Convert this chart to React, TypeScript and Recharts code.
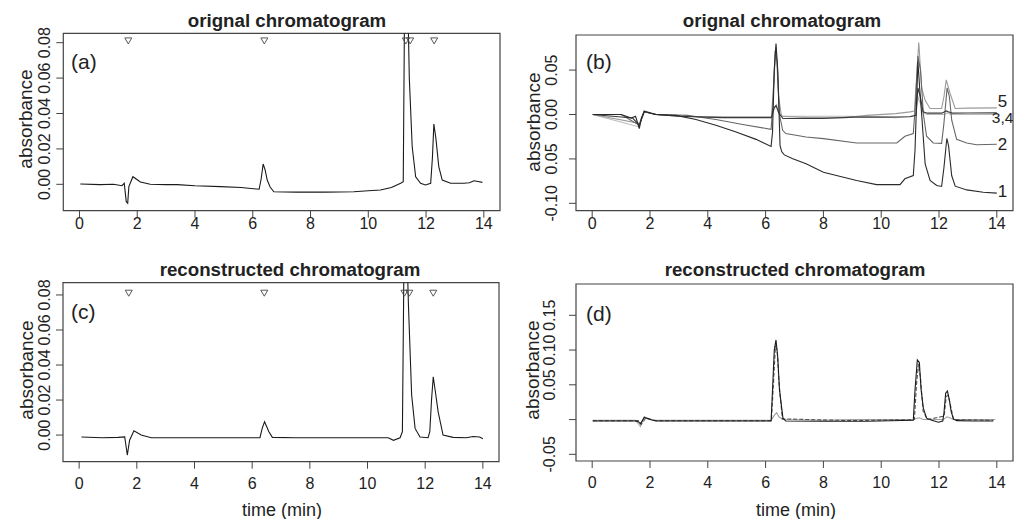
import { ComposedChart, Line, ReferenceArea, Scatter, XAxis, YAxis } from 'recharts';

const W = 1019;
const H = 519;
const FONT = '"Liberation Sans", Arial, sans-serif';
const INK = '#222';

const X_DOMAIN: [number, number] = [-0.56, 14.56];
const X_TICKS = [0, 2, 4, 6, 8, 10, 12, 14];

// (a) original chromatogram
const timeA = [0.03, 0.72, 1.18, 1.47, 1.55, 1.62, 1.67, 1.71, 1.85, 2.11, 2.45, 3.0, 3.38, 4.0, 4.88, 5.6, 6.22, 6.29, 6.36, 6.43, 6.5, 6.6, 6.73, 7.5, 8.5, 9.5, 10.0, 10.42, 10.8, 11.12, 11.21, 11.26, 11.36, 11.42, 11.52, 11.64, 11.81, 11.98, 12.16, 12.22, 12.27, 12.34, 12.44, 12.56, 12.85, 13.31, 13.5, 13.66, 13.8, 13.95];
const absA = [0.0002, -0.0002, 0, -0.0008, 0.0006, -0.0098, -0.0107, -0.0013, 0.0043, 0.0013, 0, -0.0002, -0.0002, -0.0008, -0.0013, -0.0018, -0.0028, 0.003, 0.0115, 0.008, 0.0024, -0.0015, -0.0042, -0.0044, -0.0044, -0.0042, -0.0036, -0.0032, -0.0018, 0.0006, 0.0015, 0.11, 0.11, 0.06, 0.0212, 0.0043, 0.0006, -0.0004, 0.0006, 0.015, 0.034, 0.026, 0.01, 0.0024, 0.0006, 0.0006, 0.0009, 0.002, 0.0016, 0.0011];

// (c) reconstructed chromatogram
const timeC = [0.08, 0.8, 1.35, 1.58, 1.67, 1.75, 1.9, 2.15, 2.5, 3.5, 4.5, 5.5, 6.27, 6.35, 6.43, 6.58, 6.7, 7.5, 8.5, 9.5, 10.72, 10.9, 11.13, 11.21, 11.27, 11.36, 11.42, 11.53, 11.65, 11.82, 12.1, 12.16, 12.22, 12.28, 12.36, 12.45, 12.62, 12.97, 13.43, 13.66, 13.89, 14.0];
const absC = [-0.0011, -0.0015, -0.0013, -0.001, -0.0114, -0.0029, 0.0025, 0, -0.0015, -0.0015, -0.0015, -0.0015, -0.0015, 0.004, 0.0076, 0.0019, -0.0013, -0.0015, -0.0015, -0.0015, -0.0015, -0.003, -0.0015, 0.0019, 0.11, 0.11, 0.074, 0.023, 0.0038, -0.0011, -0.0015, 0.0019, 0.02, 0.0333, 0.024, 0.0133, 0, -0.0013, -0.0015, -0.0008, -0.0011, -0.0021];

// peak markers on (a) and (c)
const peakTimesA = [1.69, 6.4, 11.3, 11.45, 12.28];
const peakTimesC = [1.72, 6.42, 11.28, 11.45, 12.28];
const MARK_LEVEL = 0.081;

// (b) original channels 1..5
const timeB1 = [0.02, 1.0, 1.35, 1.5, 1.63, 1.7, 1.8, 2.21, 2.9, 3.59, 4.28, 4.98, 5.67, 6.19, 6.24, 6.3, 6.36, 6.42, 6.5, 6.56, 6.65, 6.94, 7.4, 8.0, 9.15, 9.84, 10.65, 10.82, 11.11, 11.17, 11.27, 11.33, 11.4, 11.52, 11.69, 11.92, 12.09, 12.17, 12.27, 12.33, 12.44, 12.56, 12.96, 13.53, 14.0];
const absB1 = [0, 0, -0.004, -0.002, -0.0158, -0.004, 0.0037, 0, -0.001, -0.0057, -0.0121, -0.0197, -0.028, -0.0359, -0.02, 0.05, 0.08, 0.05, -0.035, -0.042, -0.0455, -0.0498, -0.0555, -0.065, -0.0743, -0.0789, -0.0789, -0.0724, -0.0687, -0.04, 0.06, 0.03, 0, -0.0555, -0.0743, -0.08, -0.081, -0.06, -0.027, -0.035, -0.069, -0.0807, -0.0849, -0.0875, -0.0885];
const timeB2 = [0.02, 1.0, 1.63, 1.8, 2.21, 3.3, 4.28, 5.21, 6.19, 6.25, 6.33, 6.4, 6.48, 6.59, 6.7, 7.4, 8.0, 9.15, 10.54, 10.82, 11.11, 11.18, 11.27, 11.36, 11.46, 11.57, 11.8, 12.09, 12.17, 12.28, 12.36, 12.44, 12.61, 12.96, 13.3, 14.0];
const absB2 = [0, 0, -0.012, 0.003, 0, -0.001, -0.0057, -0.0113, -0.0166, 0.01, 0.072, 0.06, 0, -0.0178, -0.0215, -0.0253, -0.0272, -0.032, -0.032, -0.0245, -0.0215, 0.01, 0.066, 0.05, 0, -0.0245, -0.032, -0.0325, -0.01, 0.03, 0.02, -0.0064, -0.028, -0.032, -0.034, -0.0335];
const timeB3 = [0.02, 1.4, 1.63, 1.8, 2.2, 3.0, 4.5, 6.2, 6.3, 6.36, 6.45, 6.6, 8.0, 9.0, 10.0, 11.0, 11.2, 11.27, 11.35, 11.45, 11.6, 12.1, 12.25, 12.32, 12.45, 13.0, 14.0];
const absB3 = [0, -0.004, -0.012, 0.003, 0, -0.002, -0.0035, -0.0035, 0.008, 0.01, 0.002, -0.0045, -0.0045, -0.003, -0.003, -0.0025, -0.001, 0.03, 0.02, 0.003, 0.0015, 0.0015, 0.004, 0.003, 0.0016, 0.0017, 0.0018];
const timeB4 = [0.02, 1.63, 1.8, 2.2, 3.0, 5.0, 6.2, 6.3, 6.38, 6.46, 6.6, 8.0, 8.8, 9.8, 10.5, 11.0, 11.2, 11.28, 11.36, 11.45, 11.6, 12.2, 12.3, 12.4, 13.0, 14.0];
const absB4 = [0, -0.014, 0.004, 0, -0.002, -0.003, -0.003, 0.006, 0.011, 0.003, -0.002, -0.002, -0.002, -0.0025, -0.0035, -0.002, -0.001, 0.02, 0.012, 0.002, 0, 0, 0.002, 0, 0, 0];
const timeB5 = [0.02, 1.63, 1.8, 2.2, 3.0, 4.5, 6.2, 6.27, 6.36, 6.45, 6.55, 7.5, 8.8, 9.5, 10.5, 11.0, 11.15, 11.22, 11.3, 11.4, 11.52, 11.69, 12.09, 12.17, 12.25, 12.38, 12.56, 13.0, 14.0];
const absB5 = [0, -0.01, 0.003, 0, -0.002, -0.003, -0.003, 0.03, 0.076, 0.02, -0.002, -0.0035, -0.0035, -0.001, 0.001, 0.003, 0.004, 0.04, 0.081, 0.03, 0.016, 0.0068, 0.0068, 0.02, 0.039, 0.024, 0.0068, 0.0072, 0.0075];

// (d) reconstructed channels
const timeD1 = [0.02, 1.48, 1.6, 1.67, 1.8, 2.04, 2.21, 4.0, 6.19, 6.24, 6.3, 6.36, 6.42, 6.48, 6.6, 6.7, 8.0, 9.5, 11.11, 11.17, 11.25, 11.32, 11.38, 11.46, 11.57, 11.75, 11.98, 12.13, 12.17, 12.23, 12.29, 12.36, 12.42, 12.5, 12.61, 13.2, 13.88];
const absD1 = [-0.002, -0.002, -0.003, -0.006, 0.003, -0.0004, -0.002, -0.002, -0.002, 0.043, 0.1, 0.1145, 0.09, 0.043, 0.002, -0.002, -0.0025, -0.0025, -0.001, 0.043, 0.0858, 0.082, 0.043, 0.016, 0.002, -0.001, -0.0038, -0.002, 0.009, 0.038, 0.041, 0.028, 0.0115, 0.001, -0.0015, -0.002, -0.002];
const timeD2 = [0.02, 1.5, 1.67, 1.8, 2.1, 4.0, 6.2, 6.3, 6.38, 6.46, 6.6, 8.0, 9.0, 11.1, 11.25, 11.32, 11.45, 12.15, 12.27, 12.35, 12.5, 13.5, 13.95];
const absD2 = [-0.001, -0.001, -0.01, 0.004, -0.001, -0.001, -0.001, 0.006, 0.01, 0.004, 0, -0.001, 0, 0, 0.002, 0.0025, 0, 0, 0.004, 0.003, 0, 0, 0];
const timeD3 = [0.02, 1.6, 1.7, 1.85, 2.2, 6.2, 6.27, 6.34, 6.4, 6.47, 6.58, 9.0, 11.15, 11.22, 11.29, 11.36, 11.45, 11.6, 12.18, 12.25, 12.32, 12.4, 12.5, 13.88];
const absD3 = [-0.0015, -0.0015, -0.007, 0.002, -0.0015, -0.0015, 0.05, 0.105, 0.1, 0.05, 0.001, -0.0015, 0, 0.05, 0.08, 0.06, 0.012, 0, 0.005, 0.033, 0.035, 0.02, 0, -0.001];

const pts = (t: number[], v: number[]) => t.map((x, i) => ({ t: x, v: v[i] }));
const last = (t: number[], v: number[]) => [{ t: t[t.length - 1], v: v[v.length - 1] }];

type Box = { x0: number; x1: number; y0: number; y1: number };

interface PanelProps {
  box: Box;
  yDomain: [number, number];
  yTicks: number[];
  yFmt: (v: number) => string;
  yOff: number;
  tickMargin: number;
  children: React.ReactNode;
}

const Panel = ({ box, yDomain, yTicks, yFmt, yOff, tickMargin, children }: PanelProps) => {
  const bx = box.x0 - yOff;
  return (
    <div style={{ position: 'absolute', left: 0, top: 0 }}>
      <ComposedChart
        width={W}
        height={H}
        margin={{ top: box.y0, right: W - box.x1, bottom: H - box.y1 - 30, left: 0 }}
      >
        <XAxis
          type='number'
          dataKey='t'
          domain={X_DOMAIN}
          ticks={X_TICKS}
          interval={0}
          allowDataOverflow
          axisLine={false}
          tickSize={7}
          tickMargin={tickMargin}
          height={30}
          tickLine={{ stroke: '#444' }}
          tick={{ fontSize: 16, fill: INK, fontFamily: FONT }}
        />
        <YAxis
          type='number'
          domain={yDomain}
          ticks={yTicks}
          interval={0}
          allowDataOverflow
          axisLine={false}
          tickSize={7}
          width={box.x0}
          tickLine={{ stroke: '#444' }}
          tick={(p: any) => (
            <text
              x={bx}
              y={p.y}
              transform={`rotate(-90 ${bx} ${p.y})`}
              textAnchor='middle'
              fontSize={16}
              fill={INK}
              fontFamily={FONT}
            >
              {yFmt(p.payload.value)}
            </text>
          )}
        />
        {children}
        <ReferenceArea
          x1={X_DOMAIN[0]}
          x2={X_DOMAIN[1]}
          y1={yDomain[0]}
          y2={yDomain[1]}
          fill='none'
          stroke='#444'
          strokeWidth={1.2}
        />
      </ComposedChart>
    </div>
  );
};

const triangle = (p: any) => (
  <polygon
    points={`${p.cx - 3.5},${p.cy - 3} ${p.cx + 3.5},${p.cy - 3} ${p.cx},${p.cy + 3}`}
    fill='none'
    stroke='#444'
    strokeWidth={0.9}
  />
);

const endLabel = (text: string, dx: number, dy: number, size: number) => (p: any) => (
  <text x={p.cx + dx} y={p.cy + dy} fontSize={size} fill={INK} fontFamily={FONT}>
    {text}
  </text>
);

const trace = (data: { t: number; v: number }[], stroke: string, width = 1.1, dash?: string) => (
  <Line
    data={data}
    dataKey='v'
    type='linear'
    stroke={stroke}
    strokeWidth={width}
    strokeDasharray={dash}
    dot={false}
    activeDot={false}
    isAnimationActive={false}
  />
);

const fmt2 = (v: number) => v.toFixed(2);
const fmtB = (v: number) => (v === -0.05 ? '0.05' : v.toFixed(2));
const fmtD = (v: number) => (v === 0 ? '' : v.toFixed(2));

const TITLES = [
  { text: 'orignal chromatogram', x: 287, y: 27 },
  { text: 'orignal chromatogram', x: 782, y: 27 },
  { text: 'reconstructed chromatogram', x: 290, y: 276 },
  { text: 'reconstructed chromatogram', x: 795, y: 276 },
];
const LETTERS = [
  { text: '(a)', x: 71, y: 69 },
  { text: '(b)', x: 586, y: 69 },
  { text: '(c)', x: 71, y: 319 },
  { text: '(d)', x: 586, y: 321 },
];
const Y_TITLES = [
  { x: 32, y: 119 },
  { x: 540, y: 122 },
  { x: 33, y: 370 },
  { x: 539, y: 370 },
];
const X_TITLES = [
  { x: 282, y: 516 },
  { x: 796, y: 516 },
];

export default function App() {
  return (
    <div style={{ position: 'absolute', left: 0, top: 0, width: W, height: H, background: '#fff' }}>
      <Panel
        box={{ x0: 63.3, x1: 500, y0: 33.3, y1: 210.7 }}
        yDomain={[-0.0149, 0.0853]}
        yTicks={[0, 0.02, 0.04, 0.06, 0.08]}
        yFmt={fmt2}
        yOff={13.3}
        tickMargin={0}
      >
        {trace(pts(timeA, absA), '#1a1a1a')}
        <Scatter
          data={peakTimesA.map((t) => ({ t, v: MARK_LEVEL }))}
          dataKey='v'
          shape={triangle}
          isAnimationActive={false}
        />
      </Panel>

      <Panel
        box={{ x0: 576, x1: 1013, y0: 35, y1: 210.7 }}
        yDomain={[-0.1083, 0.0895]}
        yTicks={[-0.1, -0.05, 0, 0.05]}
        yFmt={fmtB}
        yOff={19.3}
        tickMargin={0}
      >
        {trace(pts(timeB4, absB4), '#b8b8b8')}
        {trace(pts(timeB5, absB5), '#9a9a9a')}
        {trace(pts(timeB2, absB2), '#666')}
        {trace(pts(timeB3, absB3), '#3a3a3a')}
        {trace(pts(timeB1, absB1), '#2a2a2a')}
        <Scatter data={last(timeB5, absB5)} dataKey='v' shape={endLabel('5', 1, -1, 17)} isAnimationActive={false} />
        <Scatter data={last(timeB3, absB3)} dataKey='v' shape={endLabel('3,4', -5, 10, 15.5)} isAnimationActive={false} />
        <Scatter data={last(timeB2, absB2)} dataKey='v' shape={endLabel('2', 1, 6, 17)} isAnimationActive={false} />
        <Scatter data={last(timeB1, absB1)} dataKey='v' shape={endLabel('1', 1, 4, 17)} isAnimationActive={false} />
      </Panel>

      <Panel
        box={{ x0: 63, x1: 499, y0: 282.7, y1: 461.7 }}
        yDomain={[-0.0152, 0.087]}
        yTicks={[0, 0.02, 0.04, 0.06, 0.08]}
        yFmt={fmt2}
        yOff={13.3}
        tickMargin={9}
      >
        {trace(pts(timeC, absC), '#1a1a1a')}
        <Scatter
          data={peakTimesC.map((t) => ({ t, v: MARK_LEVEL }))}
          dataKey='v'
          shape={triangle}
          isAnimationActive={false}
        />
      </Panel>

      <Panel
        box={{ x0: 576, x1: 1013, y0: 284, y1: 461 }}
        yDomain={[-0.0596, 0.195]}
        yTicks={[-0.05, 0, 0.05, 0.1, 0.15]}
        yFmt={fmtD}
        yOff={21}
        tickMargin={9}
      >
        {trace(pts(timeD2, absD2), '#a0a0a0')}
        {trace(pts(timeD3, absD3), '#555', 1.1, '4 2')}
        {trace(pts(timeD1, absD1), '#1a1a1a')}
      </Panel>

      <svg
        width={W}
        height={H}
        style={{ position: 'absolute', left: 0, top: 0, pointerEvents: 'none' }}
        fontFamily={FONT}
        fill={INK}
      >
        {TITLES.map((d, i) => (
          <text key={`title-${i}`} x={d.x} y={d.y} textAnchor='middle' fontSize={18.7} fontWeight='bold'>
            {d.text}
          </text>
        ))}
        {LETTERS.map((d) => (
          <text key={d.text} x={d.x} y={d.y} fontSize={21}>
            {d.text}
          </text>
        ))}
        {Y_TITLES.map((d, i) => (
          <text
            key={`ytitle-${i}`}
            x={d.x}
            y={d.y}
            transform={`rotate(-90 ${d.x} ${d.y})`}
            textAnchor='middle'
            fontSize={19}
          >
            absorbance
          </text>
        ))}
        {X_TITLES.map((d, i) => (
          <text key={`xtitle-${i}`} x={d.x} y={d.y} textAnchor='middle' fontSize={18}>
            time (min)
          </text>
        ))}
      </svg>
    </div>
  );
}
